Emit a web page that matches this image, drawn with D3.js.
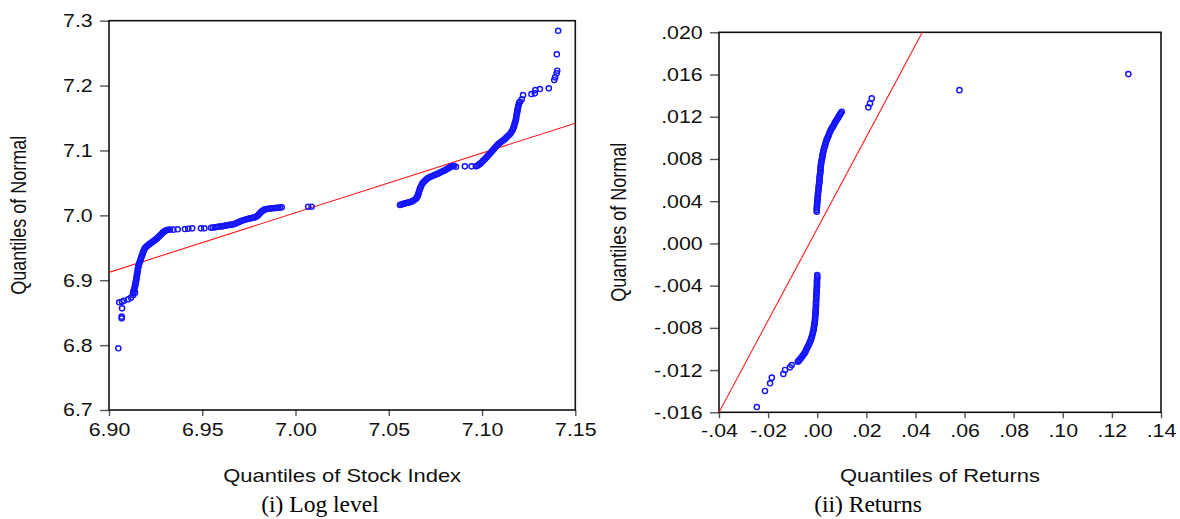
<!DOCTYPE html>
<html><head><meta charset="utf-8">
<script src="https://cdn.jsdelivr.net/npm/d3@7"></script>
<style>body{margin:0;background:#fff} svg{display:block}</style>
</head><body>
<svg id="chart" width="1180" height="519"></svg>
<script>
// ---------- DATA ----------
// Panel (i): Q-Q of log level  [quantile of stock index, quantile of normal]
const levelPoints = [
  [6.9050,6.7951],[6.9068,6.8413],[6.9068,6.8438],[6.9070,6.8567],[6.9055,6.8660],[6.9070,6.8669],
  [6.9080,6.8684],[6.9103,6.8706],[6.9118,6.8731],[6.9130,6.8772],[6.9139,6.8808],
  [6.9129,6.8803],[6.9134,6.8849],[6.9139,6.8895],[6.9142,6.8942],[6.9145,6.8988],[6.9148,6.9034],
  [6.9150,6.9080],[6.9153,6.9127],[6.9155,6.9173],[6.9158,6.9219],[6.9163,6.9265],[6.9169,6.9312],
  [6.9174,6.9358],[6.9180,6.9404],[6.9185,6.9450],[6.9193,6.9496],[6.9204,6.9527],[6.9214,6.9550],
  [6.9225,6.9573],[6.9236,6.9597],[6.9247,6.9620],[6.9257,6.9643],[6.9268,6.9674],[6.9279,6.9704],
  [6.9289,6.9735],[6.9300,6.9758],[6.9311,6.9774],[6.9327,6.9781],
  [6.9131,6.8826],[6.9136,6.8872],[6.9140,6.8918],[6.9143,6.8965],[6.9146,6.9011],[6.9149,6.9057],
  [6.9151,6.9103],[6.9154,6.9150],[6.9156,6.9196],[6.9160,6.9242],[6.9166,6.9288],[6.9171,6.9335],
  [6.9177,6.9381],[6.9182,6.9427],[6.9189,6.9473],[6.9198,6.9512],[6.9209,6.9538],[6.9219,6.9561],
  [6.9230,6.9585],[6.9241,6.9608],[6.9252,6.9631],[6.9262,6.9658],[6.9273,6.9689],[6.9284,6.9719],
  [6.9294,6.9746],[6.9305,6.9766],[6.9319,6.9778],
  [6.9345,6.9779],[6.9368,6.9785],[6.9407,6.9789],[6.9425,6.9794],[6.9446,6.9800],[6.9493,6.9800],[6.9511,6.9800],
  [6.9547,6.9809],[6.9568,6.9815],[6.9586,6.9825],[6.9604,6.9831],[6.9622,6.9840],[6.9640,6.9851],
  [6.9658,6.9856],[6.9675,6.9871],[6.9693,6.9892],[6.9711,6.9917],[6.9729,6.9932],[6.9747,6.9948],
  [6.9765,6.9959],[6.9783,6.9969],[6.9797,6.9994],[6.9809,7.0031],[6.9822,7.0067],[6.9836,7.0093],
  [6.9854,7.0102],[6.9872,7.0108],[6.9890,7.0113],[6.9907,7.0117],[6.9926,7.0124],
  [6.9557,6.9812],[6.9577,6.9820],[6.9595,6.9828],[6.9613,6.9835],[6.9631,6.9845],[6.9649,6.9853],
  [6.9666,6.9863],[6.9684,6.9881],[6.9702,6.9904],[6.9720,6.9924],[6.9738,6.9940],[6.9756,6.9953],
  [6.9774,6.9964],[6.9790,6.9981],[6.9803,7.0012],[6.9815,7.0049],[6.9829,7.0080],[6.9845,7.0097],
  [6.9863,7.0105],[6.9881,7.0110],[6.9898,7.0115],[6.9916,7.0120],
  [7.0068,7.0133],[7.0086,7.0133],
  [7.0560,7.0159],[7.0574,7.0174],[7.0588,7.0185],[7.0603,7.0195],[7.0617,7.0205],[7.0631,7.0225],
  [7.0646,7.0256],[7.0655,7.0298],[7.0660,7.0339],[7.0665,7.0390],[7.0672,7.0441],[7.0681,7.0493],
  [7.0694,7.0534],[7.0708,7.0571],[7.0724,7.0595],[7.0742,7.0617],[7.0760,7.0637],[7.0778,7.0663],
  [7.0796,7.0688],[7.0810,7.0709],[7.0824,7.0734],[7.0837,7.0755],[7.0849,7.0765],
  [7.0567,7.0166],[7.0581,7.0179],[7.0595,7.0190],[7.0610,7.0200],[7.0624,7.0215],[7.0638,7.0240],
  [7.0650,7.0277],[7.0657,7.0318],[7.0662,7.0364],[7.0668,7.0415],[7.0676,7.0467],[7.0687,7.0513],
  [7.0701,7.0552],[7.0716,7.0583],[7.0733,7.0606],[7.0751,7.0627],[7.0769,7.0650],[7.0787,7.0675],
  [7.0803,7.0698],[7.0817,7.0721],[7.0830,7.0744],[7.0843,7.0760],
  [7.0860,7.0749],[7.0908,7.0755],[7.0944,7.0755],
  [7.0967,7.0755],[7.0981,7.0775],[7.0996,7.0811],[7.1010,7.0853],[7.1024,7.0894],[7.1039,7.0940],
  [7.1053,7.0987],[7.1067,7.1033],[7.1081,7.1079],[7.1096,7.1119],[7.1110,7.1150],[7.1124,7.1181],
  [7.1139,7.1222],[7.1153,7.1264],[7.1164,7.1315],[7.1171,7.1366],[7.1176,7.1418],[7.1182,7.1480],
  [7.1185,7.1541],[7.1189,7.1597],[7.1192,7.1649],[7.1196,7.1700],[7.1199,7.1735],
  [7.0974,7.0765],[7.0988,7.0793],[7.1003,7.0832],[7.1017,7.0873],[7.1031,7.0917],[7.1046,7.0963],
  [7.1060,7.1010],[7.1074,7.1056],[7.1088,7.1099],[7.1103,7.1134],[7.1117,7.1165],[7.1131,7.1201],
  [7.1146,7.1243],[7.1158,7.1289],[7.1167,7.1340],[7.1173,7.1392],[7.1179,7.1449],[7.1183,7.1510],
  [7.1187,7.1569],[7.1190,7.1623],[7.1194,7.1675],
  [7.1204,7.1751],[7.1213,7.1788],[7.1220,7.1854],
  [7.1265,7.1870],[7.1283,7.1880],[7.1286,7.1931],[7.1310,7.1947],[7.1358,7.1957],
  [7.1387,7.2085],[7.1392,7.2127],[7.1400,7.2189],[7.1403,7.2229],[7.1401,7.2481],[7.1408,7.2845]
];
const levelLine = [[6.90,6.912],[7.15,7.142]];
const levelXTicks = [6.90,6.95,7.00,7.05,7.10,7.15];
const levelYTicks = [6.7,6.8,6.9,7.0,7.1,7.2,7.3];

// Panel (ii): Q-Q of returns  [quantile of returns, quantile of normal]
const returnPoints = [
  [-0.0002,0.00300],[-0.0002,0.00332],[-0.0001,0.00363],[0.0000,0.00394],[0.0002,0.00427],[0.0003,0.00458],
  [0.0004,0.00489],[0.0006,0.00521],[0.0007,0.00553],[0.0009,0.00584],[0.0010,0.00616],[0.0011,0.00647],
  [0.0013,0.00679],[0.0014,0.00711],[0.0015,0.00742],[0.0017,0.00773],[0.0020,0.00805],[0.0022,0.00837],
  [0.0025,0.00868],[0.0028,0.00900],[0.0032,0.00931],[0.0036,0.00963],[0.0041,0.00995],[0.0047,0.01026],
  [0.0052,0.01057],[0.0059,0.01089],[0.0066,0.01114],[0.0072,0.01142],[0.0079,0.01168],[0.0086,0.01194],
  [0.0093,0.01222],[0.0096,0.01232],[0.0100,0.01247],
  [-0.0002,0.00316],[-0.0001,0.00347],[0.0000,0.00378],[0.0001,0.00410],[0.0002,0.00442],[0.0003,0.00473],
  [0.0005,0.00505],[0.0006,0.00537],[0.0008,0.00568],[0.0009,0.00600],[0.0010,0.00631],[0.0012,0.00663],
  [0.0013,0.00695],[0.0014,0.00726],[0.0016,0.00757],[0.0018,0.00789],[0.0021,0.00821],[0.0023,0.00852],
  [0.0026,0.00884],[0.0030,0.00915],[0.0034,0.00947],[0.0038,0.00979],[0.0044,0.01010],[0.0049,0.01041],
  [0.0055,0.01073],[0.0062,0.01101],[0.0069,0.01128],[0.0075,0.01155],[0.0082,0.01181],[0.0089,0.01208],
  [0.0208,0.01289],[0.0215,0.01326],[0.0222,0.01374],[0.0579,0.01452],[0.1267,0.01604],
  [0.0000,-0.00300],[0.0000,-0.00331],[-0.0001,-0.00363],[-0.0001,-0.00394],[-0.0002,-0.00426],
  [-0.0002,-0.00458],[-0.0004,-0.00489],[-0.0004,-0.00520],[-0.0005,-0.00553],[-0.0005,-0.00584],
  [-0.0006,-0.00615],[-0.0006,-0.00647],[-0.0008,-0.00679],[-0.0009,-0.00710],[-0.0010,-0.00742],
  [-0.0012,-0.00773],[-0.0014,-0.00805],[-0.0017,-0.00837],[-0.0020,-0.00868],[-0.0024,-0.00899],
  [-0.0029,-0.00931],[-0.0035,-0.00963],[-0.0042,-0.00994],[-0.0048,-0.01026],[-0.0057,-0.01057],
  [-0.0065,-0.01083],[-0.0073,-0.01105],[-0.0079,-0.01121],
  [0.0000,-0.00315],[-0.0001,-0.00347],[-0.0001,-0.00378],[-0.0001,-0.00410],[-0.0002,-0.00442],
  [-0.0003,-0.00473],[-0.0004,-0.00505],[-0.0004,-0.00537],[-0.0005,-0.00568],[-0.0005,-0.00600],
  [-0.0006,-0.00631],[-0.0007,-0.00663],[-0.0008,-0.00695],[-0.0009,-0.00726],[-0.0011,-0.00757],
  [-0.0013,-0.00789],[-0.0015,-0.00821],[-0.0018,-0.00852],[-0.0022,-0.00884],[-0.0026,-0.00915],
  [-0.0032,-0.00947],[-0.0038,-0.00978],[-0.0045,-0.01010],[-0.0052,-0.01042],[-0.0061,-0.01070],
  [-0.0069,-0.01094],[-0.0076,-0.01113],
  [-0.0104,-0.01152],[-0.0111,-0.01174],[-0.0131,-0.01199],[-0.0138,-0.01237],[-0.0185,-0.01272],
  [-0.0192,-0.01325],[-0.0213,-0.01398],[-0.0246,-0.01550]
];
const returnLine = [[-0.04,-0.016],[0.0428,0.020]];
const returnXTicks = [-0.04,-0.02,0.00,0.02,0.04,0.06,0.08,0.10,0.12,0.14];
const returnYTicks = [-0.016,-0.012,-0.008,-0.004,0.000,0.004,0.008,0.012,0.016,0.020];

const captions = ["(i) Log level", "(ii) Returns"];
const xTitles = ["Quantiles of Stock Index", "Quantiles of Returns"];
const yTitle = "Quantiles of Normal";

// ---------- DRAWING ----------
const SX = 1.22;           // horizontal stretch of the source graphic's lettering
const FONT = "'Liberation Sans', Arial, Helvetica, sans-serif";
const svg = d3.select("#chart");
svg.append("rect").attr("width",1180).attr("height",519).attr("fill","#fff");

const stripZero = f => v => f(v).replace(/\u2212/g, "-").replace(/^(-?)0\./, "$1.");

function panel(cfg, idx) {
  const {x0,x1,y0,y1} = cfg;
  const x = d3.scaleLinear().domain(cfg.xDomain).range([x0,x1]);
  const y = d3.scaleLinear().domain(cfg.yDomain).range([y1,y0]);
  const g = svg.append("g");

  const clipId = "clip" + idx;
  svg.append("clipPath").attr("id",clipId).append("rect")
    .attr("x",x0).attr("y",y0).attr("width",x1-x0).attr("height",y1-y0);

  // axes (ticks + labels)
  const ax = g.append("g").attr("transform",`translate(0,${y1})`)
    .call(d3.axisBottom(x).tickValues(cfg.xTicks).tickSize(6).tickFormat(cfg.xFmt));
  ax.select(".domain").remove();
  ax.selectAll(".tick line").attr("stroke","#555").attr("stroke-width",1.4);
  ax.selectAll(".tick text").attr("y",cfg.xLabY).attr("dy",null)
    .attr("transform",`scale(${SX},1)`)
    .attr("fill","#111").style("font-family",FONT).style("font-size","17.5px");

  const ay = g.append("g").attr("transform",`translate(${x0},0)`)
    .call(d3.axisLeft(y).tickValues(cfg.yTicks).tickSize(9).tickFormat(cfg.yFmt));
  ay.select(".domain").remove();
  ay.selectAll(".tick line").attr("stroke","#555").attr("stroke-width",1.4);
  ay.selectAll(".tick text").attr("x",-16.3/SX).attr("dy","0.34em")
    .attr("transform",`scale(${SX},1)`)
    .attr("fill","#111").style("font-family",FONT).style("font-size","17.5px");

  // frame
  g.append("rect").attr("x",x0).attr("y",y0).attr("width",x1-x0).attr("height",y1-y0)
    .attr("fill","none").attr("stroke","#111").attr("stroke-width",1.6);

  // reference line
  g.append("path").datum(cfg.line)
    .attr("clip-path",`url(#${clipId})`)
    .attr("d", d3.line().x(d=>x(d[0])).y(d=>y(d[1])))
    .attr("fill","none").attr("stroke","#ff1a1a").attr("stroke-width",1.1);

  // points
  g.append("g").selectAll("circle").data(cfg.points).join("circle")
    .attr("cx",d=>x(d[0])).attr("cy",d=>y(d[1])).attr("r",2.6)
    .attr("fill","none").attr("stroke","#1515ff").attr("stroke-width",1.45);

  // x title
  g.append("g").attr("transform",`translate(${(x0+x1)/2},${cfg.xTitleY}) scale(${SX},1)`)
    .append("text").attr("text-anchor","middle").text(cfg.xTitle)
    .attr("fill","#111").style("font-family",FONT).style("font-size","18px");

  // y title
  g.append("g").attr("transform",`translate(${cfg.yTitleX},${(y0+y1)/2}) scale(${SX},1) rotate(-90)`)
    .append("text").attr("text-anchor","middle").text(yTitle)
    .attr("fill","#111").style("font-family",FONT).style("font-size","18px");

  // caption
  g.append("text").attr("x",cfg.capX).attr("y",512).attr("text-anchor","middle")
    .text(cfg.caption).attr("fill","#000")
    .style("font-family","'Liberation Serif','Times New Roman',serif").style("font-size","23.5px");
}

panel({
  x0:109, x1:575.3, y0:20.7, y1:410,
  xDomain:[6.90,7.15], yDomain:[6.7,7.3],
  xTicks:levelXTicks, yTicks:levelYTicks,
  xFmt:d3.format(".2f"), yFmt:d3.format(".1f"),
  xLabY:26.5, xTitleY:481.5, yTitleX:25.5,
  line:levelLine, points:levelPoints,
  xTitle:xTitles[0], caption:captions[0], capX:320
},0);

panel({
  x0:719, x1:1161, y0:32.3, y1:412.3,
  xDomain:[-0.04,0.14], yDomain:[-0.016,0.020],
  xTicks:returnXTicks, yTicks:returnYTicks,
  xFmt:stripZero(d3.format(".2f")), yFmt:stripZero(d3.format(".3f")),
  xLabY:25, xTitleY:482, yTitleX:625.5,
  line:returnLine, points:returnPoints,
  xTitle:xTitles[1], caption:captions[1], capX:868
},1);
</script>
</body></html>
